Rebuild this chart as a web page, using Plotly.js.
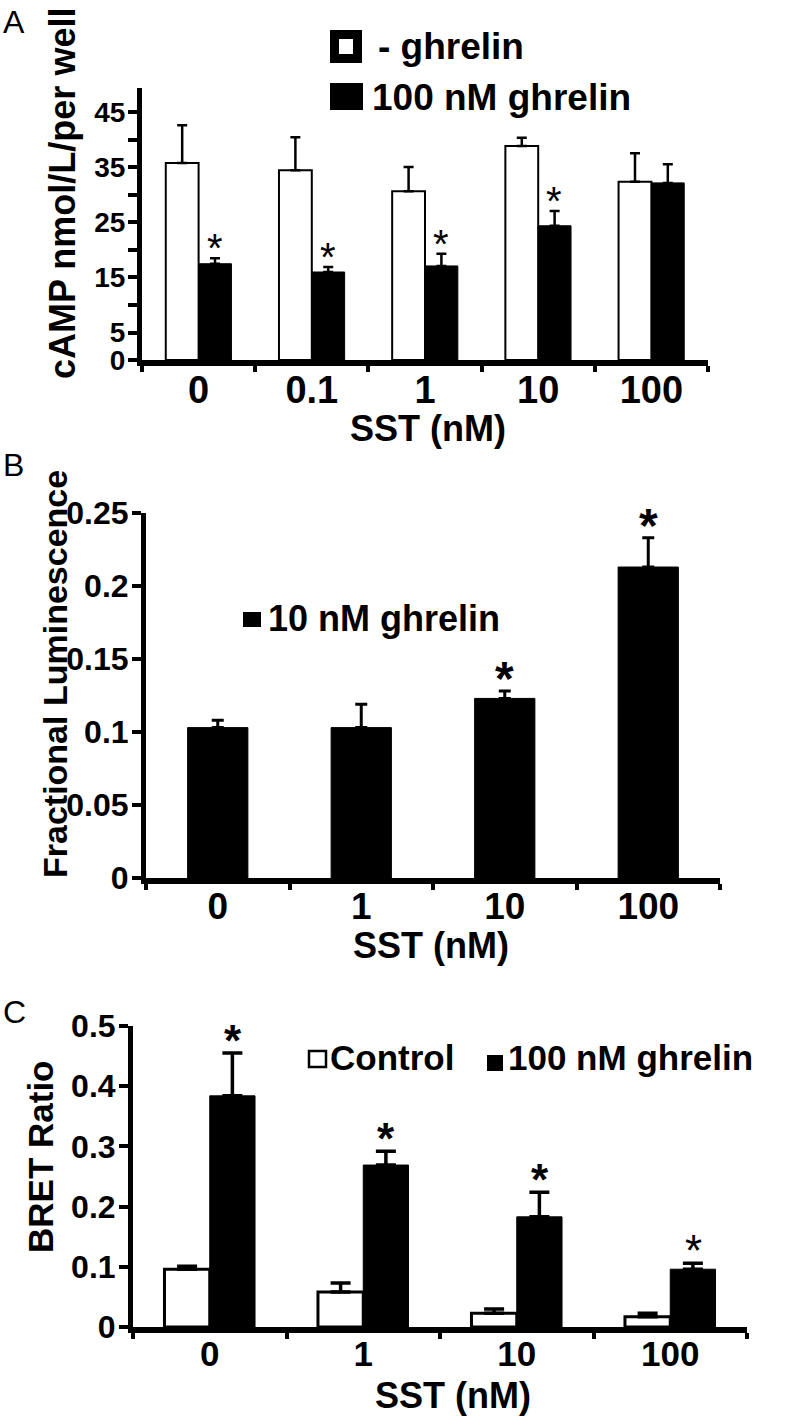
<!DOCTYPE html>
<html>
<head>
<meta charset="utf-8">
<script src="https://cdn.plot.ly/plotly-3.0.1.min.js"></script>
<style>
  html, body { margin: 0; padding: 0; background: #fff; }
  #chart { width: 799px; height: 1423px; }
</style>
</head>
<body>
<div id="chart"></div>
<script>
// ---------- Panel A data: cAMP ----------
const catsA = ['0', '0.1', '1', '10', '100'];
const noGhrelinA = [35.8, 34.5, 30.7, 38.9, 32.4];
const noGhrelinErrA = [6.9, 6.0, 4.4, 1.5, 5.2];
const ghrelinA = [17.5, 16.0, 17.1, 24.4, 32.2];
const ghrelinErrA = [1.0, 0.9, 2.2, 2.7, 3.4];
const sigA = [true, true, true, true, false];
const yTickValsA = [0, 5, 10, 15, 20, 25, 30, 35, 40, 45];
const yTickTextA = ['0', '5', '', '15', '', '25', '', '35', '', '45'];

// ---------- Panel B data: fractional luminescence ----------
const catsB = ['0', '1', '10', '100'];
const lumB = [0.103, 0.103, 0.123, 0.213];
const lumErrB = [0.005, 0.016, 0.005, 0.020];
const sigB = [false, false, true, true];
const yTickValsB = [0, 0.05, 0.1, 0.15, 0.2, 0.25];

// ---------- Panel C data: BRET ratio ----------
const catsC = ['0', '1', '10', '100'];
const controlC = [0.096, 0.058, 0.023, 0.017];
const controlErrC = [0.005, 0.015, 0.007, 0.006];
const ghrelinC = [0.384, 0.269, 0.183, 0.096];
const ghrelinErrC = [0.071, 0.023, 0.041, 0.010];
const sigC = [true, true, true, true];
const boldStarC = [true, true, true, false];
const yTickValsC = [0, 0.1, 0.2, 0.3, 0.4, 0.5];

const W = 799, H = 1423;
const FONT = 'Liberation Sans, Arial, Helvetica, sans-serif';
const px = v => v / W;
const py = v => 1 - v / H;
const zeros = a => a.map(() => 0);

function errBar(arr, thick, capw) {
  return { type: 'data', array: arr, arrayminus: zeros(arr), symmetric: false,
           visible: true, color: 'black', thickness: thick, width: capw };
}

const traces = [
  { type: 'bar', name: '- ghrelin', x: catsA, y: noGhrelinA, xaxis: 'x', yaxis: 'y',
    width: 0.29, offset: -0.29,
    marker: { color: 'white', line: { color: 'black', width: 2 } },
    error_y: errBar(noGhrelinErrA, 2.5, 5) },
  { type: 'bar', name: '100 nM ghrelin', x: catsA, y: ghrelinA, xaxis: 'x', yaxis: 'y',
    width: 0.29, offset: 0,
    marker: { color: 'black', line: { color: 'black', width: 1 } },
    error_y: errBar(ghrelinErrA, 2.5, 5) },
  { type: 'bar', name: '10 nM ghrelin', x: catsB, y: lumB, xaxis: 'x2', yaxis: 'y2',
    width: 0.42, offset: -0.21,
    marker: { color: 'black', line: { color: 'black', width: 1 } },
    error_y: errBar(lumErrB, 3, 6) },
  { type: 'bar', name: 'Control', x: catsC, y: controlC, xaxis: 'x3', yaxis: 'y3',
    width: 0.295, offset: -0.295,
    marker: { color: 'white', line: { color: 'black', width: 3 } },
    error_y: errBar(controlErrC, 3.5, 10) },
  { type: 'bar', name: '100 nM ghrelin', x: catsC, y: ghrelinC, xaxis: 'x3', yaxis: 'y3',
    width: 0.295, offset: 0,
    marker: { color: 'black', line: { color: 'black', width: 1 } },
    error_y: errBar(ghrelinErrC, 3.5, 10) }
];

function xAxis(domain, n, anchor, fsize) {
  return { domain: domain, anchor: anchor, type: 'category', range: [-0.5, n - 0.5],
           showline: true, linewidth: 6, linecolor: 'black', mirror: false,
           ticks: 'outside', tickson: 'boundaries', ticklen: 6, tickwidth: 4, tickcolor: 'black',
           ticklabelstandoff: -9,
           tickfont: { family: FONT, size: fsize, color: 'black', weight: 'bold' },
           showgrid: false, zeroline: false, fixedrange: true, automargin: false };
}
function yAxis(domain, range, anchor, fsize, extra) {
  return Object.assign({ domain: domain, anchor: anchor, range: range,
           showline: true, linewidth: 5, linecolor: 'black',
           ticks: 'outside', ticklen: 9, tickwidth: 4, tickcolor: 'black',
           ticklabelstandoff: -3,
           tickfont: { family: FONT, size: fsize, color: 'black', weight: 'bold' },
           showgrid: false, zeroline: false, fixedrange: true, automargin: false }, extra);
}

const annotations = [];
function txt(text, x, y, size, opts) {
  annotations.push(Object.assign({ text: text, xref: 'paper', yref: 'paper', x: px(x), y: py(y),
    showarrow: false, xanchor: 'center', yanchor: 'middle',
    font: { family: FONT, size: size, color: 'black', weight: 'bold' } }, opts || {}));
}

// panel letters
txt('A', 1, 22, 32, { xanchor: 'left', font: { family: FONT, size: 32, color: 'black' } });
txt('B', 1, 465, 32, { xanchor: 'left', font: { family: FONT, size: 32, color: 'black' } });
txt('C', 1, 1012, 32, { xanchor: 'left', font: { family: FONT, size: 32, color: 'black' } });

// axis titles
txt('cAMP nmol/L/per well', 63, 194, 36, { textangle: -90 });
txt('SST (nM)', 428, 428, 36);
txt('Fractional Luminescence', 55, 674, 34, { textangle: -90 });
txt('SST (nM)', 431, 946, 36);
txt('BRET Ratio', 40, 1157, 35, { textangle: -90 });
txt('SST (nM)', 453, 1395, 36);

// legends text
txt('- ghrelin', 376, 46, 37, { xanchor: 'left' });
txt('100 nM ghrelin', 370, 98, 37, { xanchor: 'left' });
txt('10 nM ghrelin', 266, 618, 36, { xanchor: 'left' });
txt('Control', 328, 1057, 35, { xanchor: 'left' });
txt('100 nM ghrelin', 506, 1057, 35, { xanchor: 'left' });

// significance asterisks (x given as category index)
function stars(vals, errs, sig, bold, xa, ya, xshift, size, yshift) {
  vals.forEach((v, i) => {
    if (!sig[i]) return;
    annotations.push({ text: '*', xref: xa, yref: ya, x: i, y: v + errs[i],
      showarrow: false, xanchor: 'center', yanchor: 'bottom', xshift: xshift, yshift: yshift,
      font: { family: FONT, size: size, color: 'black', weight: bold[i] ? 'bold' : 'normal' } });
  });
}
stars(ghrelinA, ghrelinErrA, sigA, sigA.map(() => false), 'x', 'y', 16, 40, -14);
stars(lumB, lumErrB, sigB, sigB.map(() => true), 'x2', 'y2', 0, 48, -16);
stars(ghrelinC, ghrelinErrC, sigC, boldStarC, 'x3', 'y3', 23, 44, -14);

// legend swatches (decorative)
const shapes = [
  { type: 'rect', xref: 'paper', yref: 'paper', x0: px(334.5), x1: px(357.5), y0: py(58.5), y1: py(34.5),
    line: { color: 'black', width: 9 }, fillcolor: 'white' },
  { type: 'rect', xref: 'paper', yref: 'paper', x0: px(330), x1: px(363), y0: py(110), y1: py(83),
    line: { width: 0 }, fillcolor: 'black' },
  { type: 'rect', xref: 'paper', yref: 'paper', x0: px(243), x1: px(261), y0: py(627), y1: py(612),
    line: { width: 0 }, fillcolor: 'black' },
  { type: 'rect', xref: 'paper', yref: 'paper', x0: px(309), x1: px(326), y0: py(1067), y1: py(1051),
    line: { color: 'black', width: 2.5 }, fillcolor: 'white' },
  { type: 'rect', xref: 'paper', yref: 'paper', x0: px(487), x1: px(503), y0: py(1071), y1: py(1055),
    line: { width: 0 }, fillcolor: 'black' }
];

const layout = {
  width: W, height: H, margin: { l: 0, r: 0, t: 0, b: 0 },
  paper_bgcolor: 'white', plot_bgcolor: 'white',
  showlegend: false, barmode: 'overlay',
  font: { family: FONT, color: 'black' },
  xaxis: xAxis([px(142), px(708)], catsA.length, 'y', 38),
  yaxis: yAxis([py(360), py(88)], [0, 49.45], 'x', 28,
               { tickmode: 'array', tickvals: yTickValsA, ticktext: yTickTextA }),
  xaxis2: xAxis([px(146), px(720)], catsB.length, 'y2', 37),
  yaxis2: yAxis([py(878), py(513)], [0, 0.25], 'x2', 32, { tickmode: 'array', tickvals: yTickValsB }),
  xaxis3: xAxis([px(133), px(747)], catsC.length, 'y3', 35),
  yaxis3: yAxis([py(1327), py(1026)], [0, 0.5], 'x3', 32, { tickmode: 'array', tickvals: yTickValsC }),
  annotations: annotations,
  shapes: shapes
};

Plotly.newPlot('chart', traces, layout, { displayModeBar: false, staticPlot: true });
</script>
</body>
</html>
